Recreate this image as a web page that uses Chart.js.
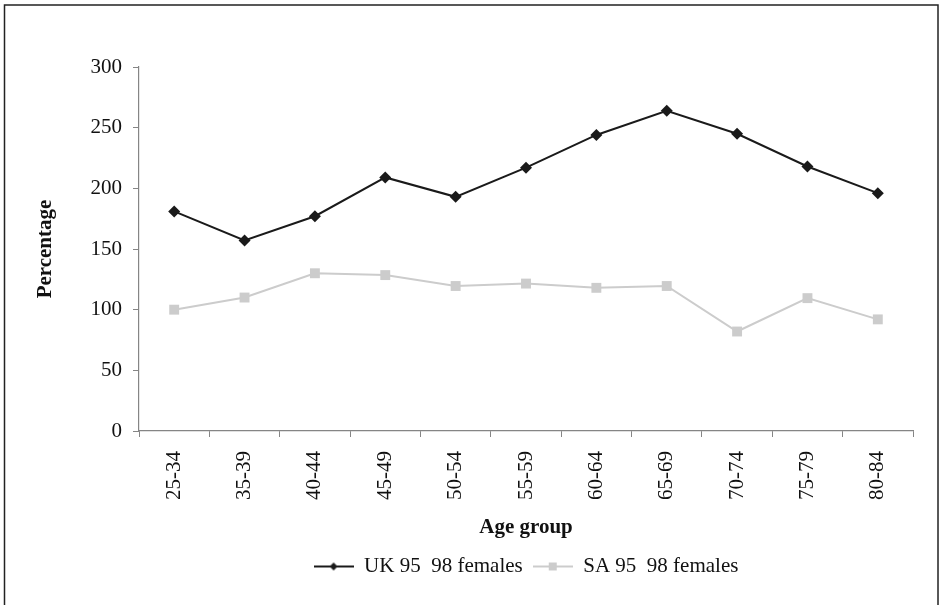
<!DOCTYPE html>
<html>
<head>
<meta charset="utf-8">
<script src="https://cdn.jsdelivr.net/npm/chart.js@4.4.1/dist/chart.umd.min.js"></script>
<style>
  html, body { margin: 0; padding: 0; background: #ffffff; }
  #wrap { width: 942px; height: 605px; position: relative; }
</style>
</head>
<body>
<div id="wrap"><canvas id="c" width="942" height="605"></canvas></div>
<script>
const categories = ['25-34','35-39','40-44','45-49','50-54','55-59','60-64','65-69','70-74','75-79','80-84'];
const ukValues = [181, 157, 177, 209, 193, 217, 244, 264, 245, 218, 196];
const saValues = [100, 110, 130, 128.5, 119.5, 121.5, 118, 119.5, 82, 109.5, 92];
const seriesNames = ['UK 95  98 females', 'SA 95  98 females'];
const yTicks = [0, 50, 100, 150, 200, 250, 300];

const FONT = 'Liberation Serif, Times New Roman, serif';
const UK_COLOR = '#1a1a1a';
const SA_COLOR = '#cccccc';
const AXIS_COLOR = '#858585';

function legendIcon(color, shape) {
  const cv = document.createElement('canvas');
  cv.width = 40; cv.height = 14;
  const ctx = cv.getContext('2d');
  ctx.strokeStyle = color;
  ctx.lineWidth = 2;
  ctx.beginPath();
  ctx.moveTo(0, 7); ctx.lineTo(40, 7);
  ctx.stroke();
  ctx.fillStyle = color;
  ctx.beginPath();
  if (shape === 'diamond') {
    ctx.moveTo(20, 3); ctx.lineTo(24, 7); ctx.lineTo(20, 11); ctx.lineTo(16, 7); ctx.closePath();
  } else {
    ctx.rect(16, 3, 8, 8);
  }
  ctx.fill();
  return cv;
}
const icons = [legendIcon(UK_COLOR, 'diamond'), legendIcon(SA_COLOR, 'square')];

const frame = {
  id: 'frame',
  beforeDraw(chart) {
    const ctx = chart.ctx;
    ctx.save();
    ctx.fillStyle = '#ffffff';
    ctx.fillRect(0, 0, chart.width, chart.height);
    ctx.strokeStyle = '#222222';
    ctx.lineWidth = 1.5;
    ctx.strokeRect(4.5, 5, 933.5, 640);
    ctx.restore();
  }
};

new Chart(document.getElementById('c'), {
  type: 'line',
  data: {
    labels: categories,
    datasets: [
      {
        label: seriesNames[0],
        data: ukValues,
        borderColor: UK_COLOR,
        backgroundColor: UK_COLOR,
        borderWidth: 2,
        pointStyle: 'rectRot',
        pointRadius: 6,
        pointBorderWidth: 0,
        tension: 0
      },
      {
        label: seriesNames[1],
        data: saValues,
        borderColor: SA_COLOR,
        backgroundColor: SA_COLOR,
        borderWidth: 2,
        pointStyle: 'rect',
        pointRadius: 7,
        pointBorderWidth: 0,
        tension: 0
      }
    ]
  },
  options: {
    responsive: false,
    animation: false,
    devicePixelRatio: 1,
    layout: { padding: { top: 67, left: 0, right: 29, bottom: 18 } },
    plugins: {
      tooltip: { enabled: false },
      legend: {
        position: 'bottom',
        fullSize: false,
        labels: {
          color: '#111111',
          font: { family: FONT, size: 21 },
          usePointStyle: true,
          pointStyleWidth: 40,
          boxHeight: 14,
          padding: 10,
          generateLabels(chart) {
            return chart.data.datasets.map((ds, i) => ({
              text: ds.label,
              pointStyle: icons[i],
              fillStyle: ds.borderColor,
              strokeStyle: ds.borderColor,
              lineWidth: 0,
              hidden: false,
              datasetIndex: i,
              fontColor: '#111111'
            }));
          }
        }
      }
    },
    scales: {
      x: {
        type: 'category',
        offset: true,
        grid: {
          offset: true,
          drawOnChartArea: false,
          drawTicks: true,
          tickLength: 6,
          color: AXIS_COLOR
        },
        border: { color: AXIS_COLOR, width: 1.2 },
        ticks: {
          color: '#111111',
          font: { family: FONT, size: 21 },
          minRotation: 90,
          maxRotation: 90,
          padding: 14,
          autoSkip: false
        },
        title: {
          display: true,
          text: 'Age group',
          color: '#111111',
          font: { family: FONT, size: 21, weight: 'bold' },
          padding: { top: 0, bottom: 6 }
        },
        afterFit(scale) { scale.height = 115; }
      },
      y: {
        min: 0,
        max: 300,
        afterBuildTicks(scale) { scale.ticks = yTicks.map(v => ({ value: v })); },
        grid: {
          drawOnChartArea: false,
          drawTicks: true,
          tickLength: 6,
          color: AXIS_COLOR
        },
        border: { color: AXIS_COLOR, width: 1.2 },
        ticks: {
          color: '#111111',
          font: { family: FONT, size: 21 },
          padding: 11
        },
        title: {
          display: true,
          text: 'Percentage',
          color: '#111111',
          font: { family: FONT, size: 21, weight: 'bold' },
          padding: { top: 33, bottom: 0 }
        },
        afterFit(scale) { scale.width = 139; }
      }
    }
  },
  plugins: [frame]
});
</script>
</body>
</html>
